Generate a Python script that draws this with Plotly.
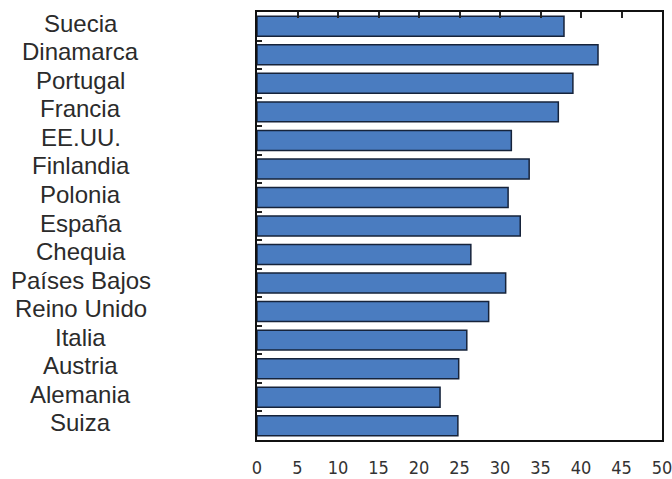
import plotly.graph_objects as go

countries = ["Suecia", "Dinamarca", "Portugal", "Francia", "EE.UU.", "Finlandia",
             "Polonia", "España", "Chequia", "Países Bajos", "Reino Unido",
             "Italia", "Austria", "Alemania", "Suiza"]
values = [37.9, 42.1, 39.0, 37.2, 31.4, 33.6, 31.0, 32.5, 26.4, 30.7,
          28.6, 25.9, 24.9, 22.6, 24.8]
xticks = [0, 5, 10, 15, 20, 25, 30, 35, 40, 45, 50]

fig = go.Figure()
fig.add_trace(go.Bar(
    x=values, y=countries, orientation="h", width=0.7,
    marker=dict(color="#4a7cc0", line=dict(color="#16233a", width=1.5)),
))
# invisible trace to carry the top tick axis
fig.add_trace(go.Scatter(x=[0, 50], y=[countries[0], countries[0]], xaxis="x2",
                         mode="markers", marker=dict(opacity=0), hoverinfo="skip"))

for c in countries:
    fig.add_annotation(x=-0.4346, xref="paper", y=c, yref="y", text=c,
                       showarrow=False, xanchor="center", yshift=3,
                       font=dict(family="Liberation Sans, Arial", size=24, color="#2b2b2b"))

fig.update_layout(
    width=672, height=479,
    margin=dict(l=257, r=10, t=12, b=39, autoexpand=False),
    paper_bgcolor="white", plot_bgcolor="white",
    showlegend=False,
    xaxis=dict(range=[0, 50], tickvals=xticks, showgrid=False, zeroline=False,
               showline=True, mirror=True, linecolor="#111111", linewidth=1.5,
               ticks="", ticklabelstandoff=11, automargin=False,
               ticklabeloverflow="allow",
               tickfont=dict(family="Liberation Sans Narrow, Arial Narrow, DejaVu Sans Condensed, Liberation Sans",
                             size=18, color="#333333")),
    xaxis2=dict(range=[0, 50], tickvals=xticks, overlaying="x", side="top",
                showgrid=False, zeroline=False, showline=False, showticklabels=False,
                ticks="inside", ticklen=6, tickcolor="#222222", tickwidth=1.5,
                automargin=False),
    yaxis=dict(range=[14.5, -0.5], showticklabels=False, showgrid=False,
               showline=True, mirror=True, linecolor="#111111", linewidth=1.5,
               tickson="boundaries", ticks="inside", ticklen=5, tickwidth=2,
               tickcolor="#222222", automargin=False),
)

fig.write_html("out.html", config={"displayModeBar": False},
               post_script="document.body.style.margin='0';")
